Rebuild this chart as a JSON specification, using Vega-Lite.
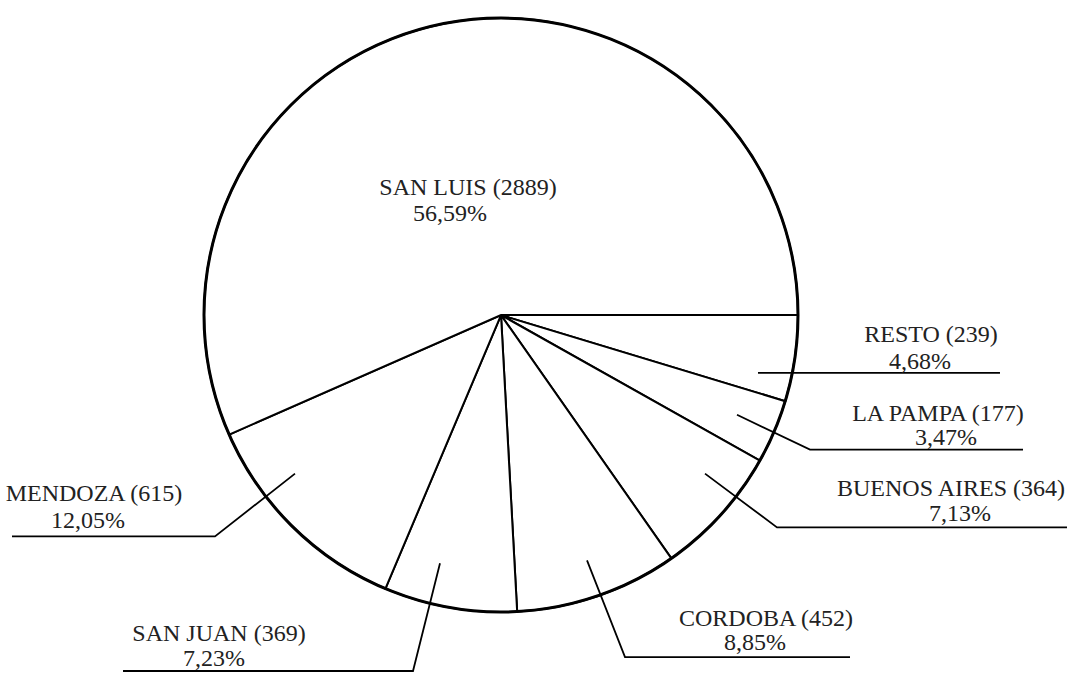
{
  "$schema": "https://vega.github.io/schema/vega-lite/v6.json",
  "width": 1071,
  "height": 675,
  "autosize": {"type": "fit", "contains": "padding"},
  "padding": 0,
  "background": "white",
  "config": {"view": {"stroke": null}},
  "datasets": {
    "slices": [
      {"provincia": "RESTO", "casos": 239, "ord": 1},
      {"provincia": "LA PAMPA", "casos": 177, "ord": 2},
      {"provincia": "BUENOS AIRES", "casos": 364, "ord": 3},
      {"provincia": "CORDOBA", "casos": 452, "ord": 4},
      {"provincia": "SAN JUAN", "casos": 369, "ord": 5},
      {"provincia": "MENDOZA", "casos": 615, "ord": 6},
      {"provincia": "SAN LUIS", "casos": 2889, "ord": 7}
    ],
    "leaders": [
      {"provincia": "RESTO", "k": 1, "u": 86.53, "v": -19.53},
      {"provincia": "RESTO", "k": 2, "u": 168.01, "v": -19.53},
      {"provincia": "LA PAMPA", "k": 1, "u": 79.46, "v": -33.67},
      {"provincia": "LA PAMPA", "k": 2, "u": 104.04, "v": -45.45},
      {"provincia": "LA PAMPA", "k": 3, "u": 175.76, "v": -45.45},
      {"provincia": "BUENOS AIRES", "k": 1, "u": 68.69, "v": -53.54},
      {"provincia": "BUENOS AIRES", "k": 2, "u": 92.93, "v": -71.72},
      {"provincia": "BUENOS AIRES", "k": 3, "u": 190.57, "v": -71.72},
      {"provincia": "CORDOBA", "k": 1, "u": 28.96, "v": -82.83},
      {"provincia": "CORDOBA", "k": 2, "u": 41.75, "v": -115.49},
      {"provincia": "CORDOBA", "k": 3, "u": 117.51, "v": -115.49},
      {"provincia": "SAN JUAN", "k": 1, "u": -20.54, "v": -83.84},
      {"provincia": "SAN JUAN", "k": 2, "u": -29.63, "v": -120.2},
      {"provincia": "SAN JUAN", "k": 3, "u": -127.27, "v": -120.2},
      {"provincia": "MENDOZA", "k": 1, "u": -69.36, "v": -53.54},
      {"provincia": "MENDOZA", "k": 2, "u": -96.3, "v": -74.75},
      {"provincia": "MENDOZA", "k": 3, "u": -164.65, "v": -74.75}
    ],
    "labels": [
      {"texto": "SAN LUIS (2889)", "u": -11.11, "v": 40.4},
      {"texto": "56,59%", "u": -17.17, "v": 31.65},
      {"texto": "RESTO (239)", "u": 144.78, "v": -9.09},
      {"texto": "4,68%", "u": 141.08, "v": -18.18},
      {"texto": "LA PAMPA (177)", "u": 147.14, "v": -35.69},
      {"texto": "3,47%", "u": 149.83, "v": -43.77},
      {"texto": "BUENOS AIRES (364)", "u": 151.52, "v": -60.94},
      {"texto": "7,13%", "u": 154.55, "v": -69.7},
      {"texto": "CORDOBA (452)", "u": 89.23, "v": -105.05},
      {"texto": "8,85%", "u": 85.52, "v": -113.13},
      {"texto": "SAN JUAN (369)", "u": -94.95, "v": -110.1},
      {"texto": "7,23%", "u": -96.63, "v": -118.52},
      {"texto": "MENDOZA (615)", "u": -137.04, "v": -62.96},
      {"texto": "12,05%", "u": -139.06, "v": -72.05}
    ]
  },
  "layer": [
    {
      "data": {"name": "slices"},
      "mark": {"type": "arc", "outerRadius": 297, "fill": "white", "stroke": "black", "strokeWidth": 2},
      "encoding": {
        "theta": {"field": "casos", "type": "quantitative", "stack": true, "scale": {"range": [1.5708, 7.854]}},
        "order": {"field": "ord", "type": "quantitative"},
        "x": {"datum": 0, "type": "quantitative", "scale": {"domain": [-168.69, 191.92], "zero": false, "nice": false}, "axis": null},
        "y": {"datum": 0, "type": "quantitative", "scale": {"domain": [-120.88, 106.4], "zero": false, "nice": false}, "axis": null}
      }
    },
    {
      "data": {"values": [{"contorno": "circulo"}]},
      "mark": {"type": "point", "shape": "circle", "filled": false, "size": 352836, "stroke": "black", "strokeWidth": 3, "opacity": 1},
      "encoding": {
        "x": {"datum": 0, "type": "quantitative", "axis": null},
        "y": {"datum": 0, "type": "quantitative", "axis": null}
      }
    },
    {
      "data": {"name": "leaders"},
      "mark": {"type": "line", "stroke": "black", "strokeWidth": 1.8},
      "encoding": {
        "x": {"field": "u", "type": "quantitative", "axis": null},
        "y": {"field": "v", "type": "quantitative", "axis": null},
        "detail": {"field": "provincia"},
        "order": {"field": "k", "type": "quantitative"}
      }
    },
    {
      "data": {"name": "labels"},
      "mark": {"type": "text", "font": "Liberation Serif", "fontSize": 24, "align": "center", "baseline": "alphabetic", "fill": "#222222"},
      "encoding": {
        "x": {"field": "u", "type": "quantitative", "axis": null},
        "y": {"field": "v", "type": "quantitative", "axis": null},
        "text": {"field": "texto"}
      }
    }
  ]
}
